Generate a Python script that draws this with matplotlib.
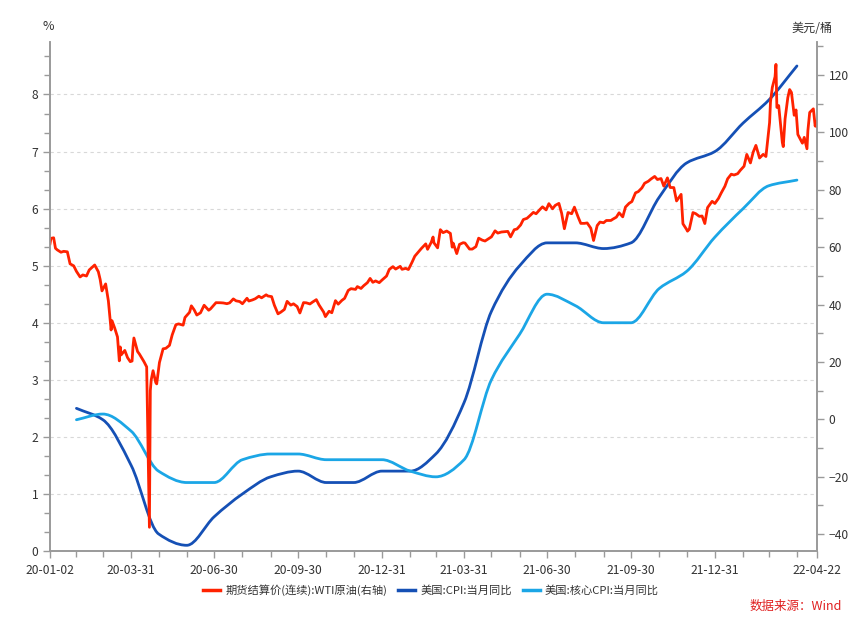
import matplotlib
matplotlib.use("Agg")
import matplotlib.pyplot as plt
import matplotlib.dates as mdates
from matplotlib.path import Path
from matplotlib.patches import PathPatch
from matplotlib.lines import Line2D
import numpy as np
import pandas as pd

plt.rcParams['font.family'] = ['Noto Sans CJK SC', 'DejaVu Sans']

# ---------------- data ----------------
cpi_months = pd.date_range("2020-01-31", "2022-03-31", freq="ME")
cpi = [2.5, 2.3, 1.5, 0.3, 0.1, 0.6, 1.0, 1.3, 1.4, 1.2, 1.2, 1.4,
       1.4, 1.7, 2.6, 4.2, 5.0, 5.4, 5.4, 5.3, 5.4, 6.2, 6.8, 7.0,
       7.5, 7.9, 8.5]
core_cpi = [2.3, 2.4, 2.1, 1.4, 1.2, 1.2, 1.6, 1.7, 1.7, 1.6, 1.6, 1.6,
            1.4, 1.3, 1.6, 3.0, 3.8, 4.5, 4.3, 4.0, 4.0, 4.6, 4.9, 5.5,
            6.0, 6.4, 6.5]

wti_dates = [
    "2020-01-02", "2020-01-03", "2020-01-06", "2020-01-08", "2020-01-10", "2020-01-14",
    "2020-01-17", "2020-01-21", "2020-01-24", "2020-01-28", "2020-01-31", "2020-02-04",
    "2020-02-07", "2020-02-11", "2020-02-14", "2020-02-20", "2020-02-24", "2020-02-26",
    "2020-02-28", "2020-03-03", "2020-03-06", "2020-03-09", "2020-03-10", "2020-03-13",
    "2020-03-16", "2020-03-18", "2020-03-19", "2020-03-20", "2020-03-24", "2020-03-27",
    "2020-03-30", "2020-04-01", "2020-04-02", "2020-04-03", "2020-04-07", "2020-04-09",
    "2020-04-14", "2020-04-17", "2020-04-20", "2020-04-21", "2020-04-22", "2020-04-24",
    "2020-04-27", "2020-04-28", "2020-05-01", "2020-05-05", "2020-05-08", "2020-05-12",
    "2020-05-15", "2020-05-19", "2020-05-22", "2020-05-27", "2020-05-29", "2020-06-03",
    "2020-06-05", "2020-06-08", "2020-06-11", "2020-06-15", "2020-06-19", "2020-06-24",
    "2020-06-26", "2020-07-02", "2020-07-07", "2020-07-10", "2020-07-14", "2020-07-17",
    "2020-07-21", "2020-07-24", "2020-07-28", "2020-07-31", "2020-08-05", "2020-08-07",
    "2020-08-11", "2020-08-14", "2020-08-18", "2020-08-21", "2020-08-26", "2020-08-28",
    "2020-09-01", "2020-09-04", "2020-09-08", "2020-09-11", "2020-09-15", "2020-09-18",
    "2020-09-22", "2020-09-25", "2020-09-29", "2020-10-02", "2020-10-06", "2020-10-09",
    "2020-10-13", "2020-10-16", "2020-10-20", "2020-10-23", "2020-10-28", "2020-10-30",
    "2020-11-03", "2020-11-06", "2020-11-10", "2020-11-13", "2020-11-17", "2020-11-20",
    "2020-11-24", "2020-11-27", "2020-12-02", "2020-12-04", "2020-12-08", "2020-12-11",
    "2020-12-15", "2020-12-18", "2020-12-21", "2020-12-24", "2020-12-28", "2020-12-31",
    "2021-01-05", "2021-01-08", "2021-01-12", "2021-01-15", "2021-01-20", "2021-01-22",
    "2021-01-26", "2021-01-29", "2021-02-02", "2021-02-05", "2021-02-09", "2021-02-12",
    "2021-02-17", "2021-02-19", "2021-02-23", "2021-02-25", "2021-02-26", "2021-03-02",
    "2021-03-05", "2021-03-08", "2021-03-12", "2021-03-16", "2021-03-18", "2021-03-19",
    "2021-03-23", "2021-03-26", "2021-03-30", "2021-04-01", "2021-04-06", "2021-04-09",
    "2021-04-13", "2021-04-16", "2021-04-20", "2021-04-23", "2021-04-27", "2021-04-30",
    "2021-05-04", "2021-05-07", "2021-05-11", "2021-05-14", "2021-05-18", "2021-05-21",
    "2021-05-25", "2021-05-28", "2021-06-01", "2021-06-04", "2021-06-08", "2021-06-11",
    "2021-06-15", "2021-06-18", "2021-06-22", "2021-06-25", "2021-06-29", "2021-07-02",
    "2021-07-06", "2021-07-09", "2021-07-13", "2021-07-16", "2021-07-19", "2021-07-23",
    "2021-07-27", "2021-07-30", "2021-08-03", "2021-08-06", "2021-08-10", "2021-08-13",
    "2021-08-17", "2021-08-20", "2021-08-24", "2021-08-27", "2021-08-31", "2021-09-03",
    "2021-09-08", "2021-09-10", "2021-09-14", "2021-09-17", "2021-09-21", "2021-09-24",
    "2021-09-28", "2021-10-01", "2021-10-05", "2021-10-08", "2021-10-12", "2021-10-15",
    "2021-10-19", "2021-10-22", "2021-10-26", "2021-10-29", "2021-11-02", "2021-11-05",
    "2021-11-09", "2021-11-12", "2021-11-16", "2021-11-19", "2021-11-24", "2021-11-26",
    "2021-11-30", "2021-12-01", "2021-12-03", "2021-12-07", "2021-12-10", "2021-12-14",
    "2021-12-17", "2021-12-20", "2021-12-23", "2021-12-28", "2021-12-31", "2022-01-04",
    "2022-01-07", "2022-01-11", "2022-01-14", "2022-01-18", "2022-01-21", "2022-01-25",
    "2022-01-28", "2022-02-01", "2022-02-04", "2022-02-08", "2022-02-11", "2022-02-14",
    "2022-02-18", "2022-02-22", "2022-02-25", "2022-03-01", "2022-03-02", "2022-03-04",
    "2022-03-07", "2022-03-08", "2022-03-09", "2022-03-11", "2022-03-15", "2022-03-16",
    "2022-03-18", "2022-03-21", "2022-03-23", "2022-03-25", "2022-03-28", "2022-03-30",
    "2022-04-01", "2022-04-06", "2022-04-08", "2022-04-11", "2022-04-12", "2022-04-14",
    "2022-04-18", "2022-04-20", "2022-04-21", "2022-04-22",
]
wti_values = [
    61.18, 63.05, 63.27, 59.61, 59.04, 58.23,
    58.54, 58.38, 54.19, 53.48, 51.56, 49.61,
    50.32, 49.94, 52.05, 53.78, 51.43, 48.73,
    44.76, 47.18, 41.28, 31.13, 34.36, 31.73,
    28.70, 20.37, 25.22, 22.43, 24.01, 21.51,
    20.09, 20.31, 25.32, 28.34, 23.63, 22.76,
    20.11, 18.27, -37.63, 10.01, 13.78, 16.94,
    12.78, 12.34, 19.78, 24.56, 24.74, 25.78,
    29.43, 32.96, 33.25, 32.81, 35.49, 37.29,
    39.55, 38.19, 36.34, 37.12, 39.75, 38.01,
    38.49, 40.65, 40.62, 40.55, 40.29, 40.59,
    41.96, 41.29, 41.04, 40.27, 42.19, 41.22,
    41.61, 42.01, 42.89, 42.34, 43.39, 42.97,
    42.76, 39.77, 36.76, 37.33, 38.28, 41.11,
    39.80, 40.25, 39.29, 37.05, 40.67, 40.60,
    40.20, 40.88, 41.70, 39.85, 37.39, 35.79,
    37.66, 37.14, 41.36, 40.13, 41.43, 42.15,
    44.91, 45.53, 45.28, 46.26, 45.60, 46.57,
    47.62, 49.10, 47.74, 48.23, 47.62, 48.52,
    49.93, 52.24, 53.21, 52.36, 53.31, 52.27,
    52.61, 52.20, 54.76, 56.85, 58.36, 59.47,
    61.14, 59.24, 61.67, 63.53, 61.50, 59.75,
    66.09, 65.05, 65.61, 64.80, 60.00, 61.42,
    57.76, 60.97, 61.55, 61.45, 59.33, 59.32,
    60.18, 63.13, 62.44, 62.14, 62.94, 63.58,
    65.69, 64.90, 65.28, 65.37, 65.49, 63.58,
    66.07, 66.32, 67.72, 69.62, 70.05, 70.91,
    72.12, 71.64, 73.06, 74.05, 72.98, 75.16,
    73.37, 74.56, 75.25, 71.81, 66.42, 72.07,
    71.65, 73.95, 70.56, 68.28, 68.29, 68.44,
    66.59, 62.32, 67.54, 68.74, 68.50, 69.29,
    69.30, 69.72, 70.46, 71.97, 70.56, 73.98,
    75.29, 75.88, 78.93, 79.35, 80.64, 82.28,
    82.96, 83.76, 84.65, 83.57, 83.91, 81.27,
    84.15, 80.79, 80.76, 76.10, 78.39, 68.15,
    66.18, 65.57, 66.26, 72.05, 71.67, 70.73,
    70.86, 68.23, 73.79, 75.98, 75.21, 77.00,
    78.90, 81.22, 83.82, 85.43, 85.14, 85.60,
    86.82, 88.20, 92.31, 89.36, 93.10, 95.46,
    91.07, 92.35, 91.59, 103.41, 110.60, 115.68,
    119.40, 123.70, 108.70, 109.33, 96.44, 95.04,
    104.70, 112.12, 114.93, 113.90, 105.96, 107.82,
    99.27, 96.23, 98.26, 94.29, 100.60, 106.95,
    108.21, 102.19, 103.79, 102.07,
]

major_tick_dates = ["2020-01-02", "2020-03-31", "2020-06-30", "2020-09-30", "2020-12-31",
                    "2021-03-31", "2021-06-30", "2021-09-30", "2021-12-31", "2022-04-22"]
major_tick_labels = ["20-01-02", "20-03-31", "20-06-30", "20-09-30", "20-12-31",
                     "21-03-31", "21-06-30", "21-09-30", "21-12-31", "22-04-22"]
left_ticks = [0, 1, 2, 3, 4, 5, 6, 7, 8]
right_ticks = [-40, -20, 0, 20, 40, 60, 80, 100, 120]

legend_labels = ["期货结算价(连续):WTI原油(右轴)", "美国:CPI:当月同比", "美国:核心CPI:当月同比"]
source_text = "数据来源：Wind"

# ---------------- style ----------------
c_wti = "#FF2200"
c_cpi = "#1550B5"
c_core = "#1BA6E6"
axis_c = "#9a9a9a"
text_c = "#333333"


def smooth_path(xs, ys):
    """Monotone cubic Bezier path through the given points (rendering only)."""
    xs = np.asarray(xs, float)
    ys = np.asarray(ys, float)
    n = len(xs)
    h = np.diff(xs)
    d = np.diff(ys) / h
    m = np.zeros(n)
    m[0], m[-1] = d[0], d[-1]
    for i in range(1, n - 1):
        if d[i - 1] * d[i] <= 0:
            m[i] = 0.0
        else:
            w1 = 2 * h[i] + h[i - 1]
            w2 = h[i] + 2 * h[i - 1]
            m[i] = (w1 + w2) / (w1 / d[i - 1] + w2 / d[i])
    verts = [(xs[0], ys[0])]
    codes = [Path.MOVETO]
    for i in range(n - 1):
        verts += [(xs[i] + h[i] / 3, ys[i] + m[i] * h[i] / 3),
                  (xs[i + 1] - h[i] / 3, ys[i + 1] - m[i + 1] * h[i] / 3),
                  (xs[i + 1], ys[i + 1])]
        codes += [Path.CURVE4] * 3
    return Path(verts, codes)


fig = plt.figure(figsize=(8.65, 6.21), dpi=100)
ax = fig.add_axes([50 / 865, 70 / 621, 767 / 865, 509 / 621])
ax2 = ax.twinx()

xm = mdates.date2num(cpi_months.to_pydatetime())
ax.add_patch(PathPatch(smooth_path(xm, cpi), fill=False, edgecolor=c_cpi, lw=2.0,
                       capstyle='round', joinstyle='round'))
ax.add_patch(PathPatch(smooth_path(xm, core_cpi), fill=False, edgecolor=c_core, lw=2.0,
                       capstyle='round', joinstyle='round'))

wd = pd.to_datetime(wti_dates)
ax2.plot(wd, wti_values, color=c_wti, lw=2.0, solid_joinstyle='round')

x0 = mdates.date2num(pd.Timestamp("2020-01-02"))
x1 = mdates.date2num(pd.Timestamp("2022-04-22"))
ax.set_xlim(x0, x1)
ax2.set_xlim(x0, x1)
ax.set_ylim(0, 8.92)
ax2.set_ylim(-45.9, 131.5)

ax.xaxis_date()
ax.set_xticks(mdates.date2num(pd.to_datetime(major_tick_dates).to_pydatetime()))
ax.set_xticklabels(major_tick_labels)
minor_x = pd.date_range("2020-01-31", "2022-03-31", freq="ME")
ax.set_xticks(mdates.date2num(minor_x.to_pydatetime()), minor=True)

ax.set_yticks(left_ticks)
ax.set_yticks(np.arange(0, 8.92, 1 / 3), minor=True)
ax2.set_yticks(right_ticks)
ax2.set_yticks(np.arange(-40, 131, 10), minor=True)

for a in (ax, ax2):
    for s in a.spines.values():
        s.set_color(axis_c)
        s.set_linewidth(1.2)
    a.spines['top'].set_visible(False)
    a.tick_params(which='both', colors=axis_c, labelcolor=text_c, labelsize=8.7)
    a.tick_params(which='major', length=5, width=1)
    a.tick_params(which='minor', length=4, width=1)

ax.grid(axis='y', which='major', color='#d8d8d8', linestyle=(0, (3, 3)), lw=0.8)
ax.set_axisbelow(True)
ax2.set_zorder(ax.get_zorder() + 1)
ax2.patch.set_visible(False)

ax.tick_params(axis='x', pad=4)

fig.text(48 / 865, 1 - 27 / 621, "%", ha='center', va='center', fontsize=9, color=text_c)
fig.text(812 / 865, 1 - 28 / 621, "美元/桶", ha='center', va='center', fontsize=8.7, color=text_c)

handles = [Line2D([], [], color=c_wti, lw=2.5),
           Line2D([], [], color=c_cpi, lw=2.5),
           Line2D([], [], color=c_core, lw=2.5)]
fig.legend(handles, legend_labels, loc='center', bbox_to_anchor=(431 / 865, 1 - 590 / 621),
           ncol=3, frameon=False, fontsize=8.1, handlelength=1.5, handletextpad=0.45,
           columnspacing=1.0, labelcolor=text_c)

fig.text(842 / 865, 1 - 606 / 621, source_text, ha='right', va='center', fontsize=9.0,
         color="#E02020")

fig.savefig("out.png", dpi=100)
